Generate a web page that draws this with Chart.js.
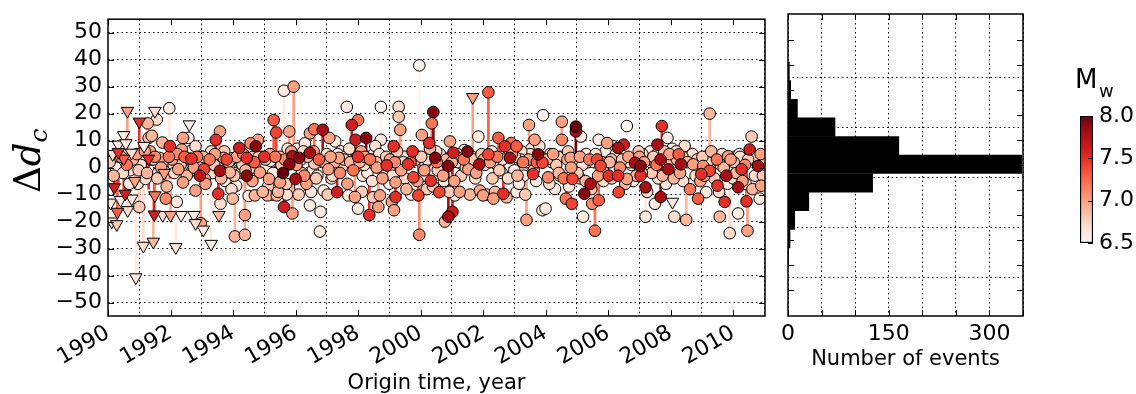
<!DOCTYPE html>
<html>
<head>
<meta charset="utf-8">
<script src="https://cdn.jsdelivr.net/npm/chart.js@4.4.1/dist/chart.umd.min.js"></script>
<style>
  html, body { margin: 0; padding: 0; background: #fff; }
  body { width: 1136px; height: 394px; position: relative; overflow: hidden; }
  .box { position: absolute; top: 0; }
</style>
</head>
<body>
<div class="box" style="left:0"><canvas id="mainchart" width="775" height="394"></canvas></div>
<div class="box" style="left:775px"><canvas id="histchart" width="270" height="394"></canvas></div>
<div class="box" style="left:1045px"><canvas id="cbarchart" width="91" height="394"></canvas></div>
<script>
// circles: origin time, delta d_c, magnitude, other end of the stem (null = no visible stem)
const evYear = [
  1990.7,1990.9,1991.0,1991.2,1991.27,1991.3,1991.4,1991.45,1991.56,1991.65,1991.74,1991.85,1991.96,1991.98,1990.4,1991.1,1991.6,1991.9,1990.95,1991.35,
  1992.1,1992.2,1992.25,1992.36,1992.4,1992.4,1992.5,1992.57,1992.6,1992.67,1992.8,1992.8,1992.9,1992.94,1992.97,1993.07,1993.1,1993.2,1993.3,1993.45,1993.53,1993.58,1993.58,1993.6,1993.7,1993.75,1993.85,1993.9,1993.99,1992.3,1992.7,1993.0,1993.4,1993.65,1992.15,
  1994.0,1994.06,1994.1,1994.2,1994.3,1994.38,1994.38,1994.44,1994.44,1994.5,1994.56,1994.6,1994.73,1994.8,1994.7,1994.86,1994.9,1995.0,1995.1,1995.15,1995.2,1995.3,1995.38,1995.4,1995.5,1995.5,1995.6,1995.63,1995.63,1995.7,1995.8,1995.8,1995.9,1995.9,1995.94,1994.15,1994.65,1995.05,1995.25,1995.45,1994.25,1995.75,
  1996.0,1996.05,1996.12,1996.2,1996.25,1996.35,1996.46,1996.46,1996.46,1996.6,1996.6,1996.7,1996.78,1996.8,1996.87,1996.9,1997.0,1997.08,1997.05,1997.2,1997.27,1997.33,1997.38,1997.5,1997.6,1997.64,1997.69,1997.8,1997.9,1997.92,1996.15,1996.55,1996.95,1997.15,1997.45,1997.75,1996.3,
  1998.0,1998.0,1998.0,1998.1,1998.2,1998.26,1998.36,1998.45,1998.5,1998.6,1998.65,1998.7,1998.73,1998.73,1998.8,1998.92,1999.0,1999.08,1999.14,1999.15,1999.2,1999.2,1999.3,1999.3,1999.35,1999.45,1999.6,1999.7,1999.74,1999.77,1999.85,1999.93,1999.96,1999.96,1998.15,1998.4,1998.85,1999.05,1999.5,1999.65,1998.55,
  2000.04,2000.15,2000.28,2000.33,2000.36,2000.41,2000.47,2000.55,2000.6,2000.7,2000.78,2000.89,2000.89,2000.94,2001.02,2001.05,2001.1,2001.2,2001.3,2001.4,2001.5,2001.53,2001.7,2001.85,2001.88,2001.9,2000.1,2000.5,2000.75,2001.15,2001.35,2001.6,2001.75,2000.2,
  2002.0,2002.1,2002.17,2002.17,2002.33,2002.4,2002.49,2002.6,2002.65,2002.7,2002.86,2002.9,2003.0,2003.07,2003.07,2003.2,2003.3,2003.39,2003.47,2003.5,2003.6,2003.65,2003.76,2003.9,2003.9,2003.92,2002.05,2002.3,2002.55,2002.8,2003.15,2003.4,2003.7,2003.8,
  2004.0,2004.08,2004.2,2004.3,2004.4,2004.52,2004.52,2004.6,2004.65,2004.7,2004.8,2004.84,2004.86,2004.97,2004.97,2005.05,2005.13,2005.2,2005.24,2005.35,2005.44,2005.49,2005.58,2005.65,2005.7,2005.7,2005.76,2005.85,2005.97,2004.15,2004.45,2004.75,2005.1,2005.3,2005.55,2005.9,
  2006.02,2006.1,2006.2,2006.32,2006.32,2006.34,2006.5,2006.6,2006.6,2006.7,2006.86,2006.95,2007.04,2007.04,2007.2,2007.2,2007.3,2007.4,2007.5,2007.58,2007.68,2007.68,2007.72,2007.8,2007.9,2007.93,2006.15,2006.4,2006.8,2007.1,2007.35,2007.6,2007.85,
  2008.12,2008.2,2008.26,2008.33,2008.4,2008.5,2008.6,2008.72,2008.8,2008.88,2008.98,2009.04,2009.14,2009.25,2009.25,2009.35,2009.45,2009.5,2009.57,2009.65,2009.73,2009.78,2009.84,2009.89,2009.95,2010.05,2010.16,2010.16,2010.27,2010.35,2010.43,2010.46,2010.53,2010.59,2010.7,2010.8,2010.85,2010.9,2010.98,2008.05,2008.45,2008.65,2009.1,2009.6,2010.0,2010.2,2010.65,2010.4
]
const evDc = [
  -1,2,-14.6,-4.2,16.4,11,11.8,3,17.8,3.6,9.3,-11.5,22,7.9,1,4,-2,1,-6,6,
  1,-12.7,-0.6,6.7,11,-5.5,3,11,3.3,3.3,7.9,-8.5,3.3,-3,-20.6,-0.6,-4.2,2,6,10.3,-9.7,13.4,-1.2,-13.4,3.6,-5,2,-1.8,-11.5,3,-1,4,1,-3,5,
  3.5,-25.5,-6.7,7.3,1,-24.9,-17.6,3.6,-3,-10.5,9,0,7.9,10.3,-10.3,-1.8,4,4,-10.3,-4.2,2.5,17.6,13,-10.3,-5.5,4,-2,-14.6,28.5,-6,1.2,13.4,-17,4.2,30,2,4,0,-10,2,-2,7,
  -4.2,7,3.6,-2,6,-6,-14,5.5,12.7,14.2,1.5,-3,-23.7,-16.4,14,-8.5,5,11,-0.6,3,9.7,-9.1,3.6,0.5,4,22.5,-10.3,15.8,-10.9,10.3,-7,-1,2,-4,6,2,9,
  17.6,4,-15.2,6,1,11,-17.6,-5,5,0,-14.6,-10.3,22.5,10.3,3,0.8,-6,-12.7,7.9,-15.8,-10.9,-5.5,22.5,18.8,14,2,1.2,-10,6,-3.6,3,-10.3,37.9,-24.9,-3,3,-3,2,-4,4,8,
  12.1,2,9.1,-4.9,16.4,20.6,3.6,-1,-9.1,4,-20,-18.2,0.6,9.7,-16.4,5.5,-10.3,2,-3,6.5,6,-0.6,3,11.5,1.2,-8.5,-3,6,-5,4,1,4,-4,-8,
  -10.3,4.5,27.9,4.9,-11.5,1.5,11,-2,-9.7,7.9,3.6,9.1,-1,-9.1,7.9,3,-3,-19.4,15.8,5,-2.4,10.3,4.9,1.8,-15.8,19.4,1,-4,4,-4,-6,2,-5,8,
  -15.2,-3.6,2,-7.9,4,17,10.3,0,-11.5,3,3.6,-13.4,-4.2,15.2,13.4,1,11.5,-18.2,-9.7,2,-6,-13.4,-23.4,3,-12.1,10.3,0.6,-5,9.1,5,-3,-7,-4,5,2,-2,
  -3,3,-1,7.3,-3,-9.1,8.5,15.4,-4.2,2,1.8,4,0.6,-3,-7.3,-18.2,3,-2,-13.4,8.5,3,-10.9,15.4,6,11,-0.6,8,2,-5,5,6,-4,-6,
  -18.2,3,4.9,1.2,-5,-19.4,5,1.2,-3,-11.5,-2.4,0.6,-9.1,-1.2,20,4,2,-6.7,-18.2,5,-12.7,-3,4.2,-24.3,1,4,-7.3,-17,-0.6,3,-12.5,-23.4,6.7,11.5,-3,0.6,-11.5,-6.7,2,7,8,-6,4,1,-4,5,3,-6
]
const evMw = [
  6.6,6.7,6.8,6.7,6.9,6.9,6.9,6.8,6.7,7.0,6.9,7.1,6.6,7.5,6.6,6.7,6.8,6.6,6.6,7.0,
  6.7,6.6,7.0,7.0,7.0,7.0,6.8,6.6,7.0,7.5,6.7,7.0,6.6,7.7,7.0,7.4,7.0,6.6,6.7,7.5,7.5,7.0,7.8,6.7,7.0,6.6,6.8,6.9,6.9,6.6,6.8,6.6,6.8,6.6,6.9,
  6.7,6.9,6.6,7.6,6.8,6.9,7.0,7.5,7.9,6.6,7.1,6.7,7.9,7.0,6.9,7.0,6.6,7.5,6.9,7.0,6.7,7.3,7.4,6.9,7.0,6.8,8.0,7.6,6.6,6.8,7.9,7.0,7.0,7.8,7.0,6.6,6.8,6.6,6.7,6.6,6.7,6.6,
  7.8,6.6,7.9,6.8,6.7,7.0,6.6,7.8,7.0,7.2,6.8,6.7,6.6,6.6,7.8,6.6,6.7,7.0,7.0,6.6,6.6,7.6,7.0,6.8,6.7,6.6,6.6,7.6,7.0,7.6,6.6,6.6,6.8,6.7,6.6,6.9,6.6,
  7.2,7.5,6.6,7.0,6.7,7.9,7.5,6.7,6.6,7.0,7.0,7.0,6.5,6.6,6.7,7.5,6.6,7.0,7.5,7.0,7.5,7.0,6.7,6.8,7.0,6.7,7.5,6.6,7.5,7.4,6.8,7.4,6.5,7.1,6.6,6.8,6.6,6.6,6.7,6.6,6.7,
  7.0,6.7,7.5,7.5,7.2,7.9,7.9,6.8,7.4,6.6,6.9,7.8,7.9,7.0,7.6,7.6,6.6,6.7,6.8,6.6,7.9,7.0,6.8,6.6,7.8,7.0,6.6,6.7,6.6,6.9,6.6,6.6,6.7,6.8,
  7.0,6.7,7.3,7.4,7.0,6.6,7.3,6.7,7.5,7.5,7.8,7.2,6.6,6.6,7.3,6.8,6.6,7.0,7.0,6.7,7.5,7.0,7.9,7.4,6.6,6.5,6.6,6.8,6.6,6.7,6.6,6.9,6.6,6.7,
  6.6,7.1,6.7,6.6,6.8,7.0,7.1,6.6,7.2,6.9,7.0,7.4,7.4,8.0,7.8,6.7,6.6,6.6,7.9,6.6,7.8,7.1,7.2,7.4,7.3,6.6,7.4,6.7,7.0,6.6,6.7,6.6,6.8,6.6,6.7,6.6,
  7.5,6.8,6.6,7.8,7.5,7.4,7.6,6.5,7.0,6.7,7.8,6.6,7.9,7.5,7.8,6.6,6.7,6.8,6.6,7.8,7.8,7.8,7.5,6.8,6.6,7.8,6.6,6.6,6.6,6.7,6.6,6.7,6.6,
  6.7,6.9,7.3,7.8,6.7,6.9,6.6,7.0,6.7,7.3,7.5,7.1,6.6,7.4,6.9,6.6,6.7,7.5,6.9,6.7,7.5,7.8,7.0,6.7,6.6,6.6,7.8,6.6,7.5,6.7,7.5,7.0,7.6,6.8,6.7,7.8,6.6,7.0,6.8,6.6,6.7,6.6,6.6,6.8,6.7,6.6,6.6,6.6
]
const evRef = [
  null,null,-3,null,4,null,null,null,null,null,null,-1,10,-4,null,null,null,null,null,null,
  null,null,null,null,null,null,null,null,null,null,null,null,null,3,-5,null,null,null,null,-1,0,2,3,null,null,null,null,null,null,null,null,null,null,null,null,
  null,-5,null,null,null,-3,-2,null,3,null,null,null,1,null,null,null,null,null,null,null,null,2,1,null,null,null,4,-2,5,null,null,3,-4,null,5,null,null,null,null,null,null,null,
  -12,null,null,null,null,null,null,null,3,4,null,null,-6,null,2,null,null,null,null,null,null,1,null,null,null,6,null,3,-2,2,null,null,null,null,null,null,null,
  null,null,null,null,null,0,-6,null,null,null,-4,null,8,null,null,null,null,null,null,null,0,null,5,null,2,null,null,null,null,null,null,2,2,-8,null,null,null,null,null,null,null,
  null,null,0,null,3,2,null,null,null,null,null,0,null,null,2,null,null,null,null,null,null,null,null,null,null,null,null,null,null,null,null,null,null,null,
  null,null,3,null,null,null,2,null,2,null,null,null,null,null,null,null,null,-4,4,null,null,null,null,null,null,3,null,null,null,null,null,null,null,null,
  null,null,null,null,null,10,null,null,0,null,null,null,null,0,null,null,null,null,null,null,null,null,-2,null,2,null,null,null,null,null,null,null,null,null,null,null,
  null,null,null,null,null,null,null,4,null,null,null,null,null,null,null,-5,null,null,null,null,null,2,0,null,null,null,null,null,null,null,null,null,null,
  null,null,null,null,null,-5,null,null,null,null,null,null,null,null,4,null,null,null,null,null,null,null,null,-8,null,null,null,null,null,null,0,-5,1,null,null,null,null,null,null,null,null,null,null,null,null,null,null,null
]

// the crowded band around zero (no stems visible)
const bandYear = [
  1990.05,1990.18,1990.25,1990.42,1990.48,1990.6,1990.68,1990.8,1990.92,1990.98,
  1991.05,1991.18,1991.25,1991.38,1991.5,1991.58,1991.7,1991.78,1991.88,1991.95,
  1992.05,1992.12,1992.22,1992.32,1992.45,1992.52,1992.62,1992.75,1992.85,1992.95,
  1993.05,1993.12,1993.25,1993.35,1993.42,1993.5,1993.62,1993.72,1993.8,1993.95,
  1994.04,1994.12,1994.22,1994.33,1994.4,1994.52,1994.62,1994.68,1994.82,1994.95,
  1995.04,1995.12,1995.18,1995.28,1995.35,1995.44,1995.55,1995.66,1995.72,1995.86,
  1996.03,1996.1,1996.18,1996.28,1996.38,1996.5,1996.58,1996.66,1996.75,1996.92,
  1997.03,1997.12,1997.18,1997.25,1997.35,1997.42,1997.55,1997.66,1997.72,1997.85,
  1998.05,1998.12,1998.22,1998.3,1998.38,1998.48,1998.58,1998.68,1998.78,1998.9,
  1999.02,1999.1,1999.18,1999.25,1999.38,1999.48,1999.55,1999.68,1999.8,1999.9,
  2000.02,2000.12,2000.22,2000.3,2000.4,2000.52,2000.62,2000.72,2000.82,2000.92,
  2001.0,2001.08,2001.18,2001.25,2001.38,2001.45,2001.58,2001.65,2001.78,2001.95,
  2002.02,2002.12,2002.22,2002.28,2002.38,2002.45,2002.52,2002.62,2002.75,2002.92,
  2003.02,2003.1,2003.22,2003.28,2003.35,2003.45,2003.55,2003.62,2003.72,2003.85,
  2004.04,2004.12,2004.24,2004.34,2004.42,2004.5,2004.58,2004.72,2004.82,2004.92,
  2005.02,2005.1,2005.18,2005.28,2005.4,2005.46,2005.6,2005.68,2005.8,2005.92,
  2006.05,2006.12,2006.25,2006.38,2006.45,2006.55,2006.65,2006.75,2006.9,2006.98,
  2007.0,2007.08,2007.15,2007.25,2007.45,2007.55,2007.62,2007.75,2007.88,2007.96,
  2008.02,2008.1,2008.18,2008.3,2008.38,2008.55,2008.62,2008.7,2008.85,2008.95,
  2009.02,2009.08,2009.18,2009.3,2009.4,2009.48,2009.55,2009.7,2009.82,2009.92,
  2010.02,2010.1,2010.22,2010.3,2010.38,2010.48,2010.62,2010.75,2010.88,2010.95
]
const bandDc = [
  2,-3,0,4,-2,1,-6,3,5,-1,
  1,6,-2,3,4,-4,0,2,-7,4,
  3,-2,5,1,4,-3,6,0,4,1,
  4,-6,3,-2,5,2,-4,6,3,-8,
  -3,4,2,5,-1,3,-5,2,4,-9,
  3,-7,5,-2,4,-9,1,3,-10,6,
  1,-10,3,-3,4,-9,6,-4,3,2,
  -10,4,-3,2,5,-2,3,-6,7,-1,
  2,-9,4,-2,3,-11,2,5,-4,4,
  3,-3,2,6,-1,4,-8,2,5,-5,
  4,-1,3,7,-7,2,5,-3,3,-9,
  2,-5,5,-9,3,0,-10,4,-2,5,
  3,-10,2,6,-9,4,-1,3,-11,5,
  4,-3,6,2,-10,3,7,-1,2,4,
  3,-6,5,1,-2,4,-4,6,0,3,
  -2,4,1,-5,3,-8,5,-3,2,6,
  2,-4,5,0,3,-6,4,1,-3,6,
  4,-2,2,-9,4,1,6,-3,3,5,
  3,-4,6,-2,4,2,-8,5,3,-5,
  4,-3,2,6,-4,3,-9,0,-6,3,
  2,-2,4,-5,1,3,-8,4,5,-3
]
const bandMw = [
  6.8,6.9,6.6,7.0,6.7,7.2,6.6,6.9,7.0,6.8,
  6.7,7.0,6.9,6.6,7.1,6.8,7.0,6.6,6.9,7.2,
  7.0,6.7,7.1,6.8,7.3,6.9,6.6,7.0,7.2,6.8,
  6.9,7.0,7.2,6.7,7.0,6.6,6.9,6.8,7.4,6.7,
  6.8,7.0,6.6,7.1,6.9,6.7,7.0,7.3,6.8,6.9,
  6.9,6.8,7.0,6.6,7.2,6.9,6.8,7.1,6.7,7.0,
  7.0,6.8,6.7,7.1,6.9,6.6,7.0,6.8,7.3,6.9,
  6.8,7.0,6.7,6.9,6.6,7.1,6.8,7.0,6.7,7.2,
  6.9,6.8,7.0,6.6,7.2,6.8,6.9,6.7,7.0,6.8,
  7.0,6.7,7.1,6.8,7.0,6.6,6.9,7.3,6.8,7.0,
  6.8,7.0,6.7,6.9,6.8,7.2,6.6,7.0,6.9,6.8,
  6.9,7.0,6.6,7.0,7.2,6.8,6.9,6.7,7.0,6.8,
  7.0,6.8,7.0,6.6,6.9,7.2,6.8,6.7,6.9,7.0,
  6.8,6.9,6.7,7.2,6.8,7.0,6.6,6.9,7.3,6.8,
  6.9,6.7,7.0,6.8,6.9,6.6,7.2,6.8,7.0,6.7,
  6.8,7.0,6.7,6.9,7.2,6.8,6.7,7.0,6.9,6.6,
  6.9,6.8,6.7,7.1,6.8,6.9,7.0,6.6,6.9,6.8,
  7.0,6.8,7.0,6.7,6.8,7.2,6.6,6.9,6.8,7.0,
  6.8,6.9,6.7,7.0,6.8,6.9,7.2,6.7,6.8,7.0,
  6.8,7.0,6.7,6.9,6.8,7.2,6.7,6.9,6.6,7.0,
  6.8,6.9,6.7,7.0,7.1,6.8,6.9,6.6,7.0,6.8
]

// triangles (downward markers)
const triYear = [1990.08,1990.12,1990.2,1990.28,1990.3,1990.33,1990.33,1990.5,1990.5,1990.55,1990.57,1990.62,1990.63,1990.75,1990.76,1990.86,1990.89,1991.0,1991.13,1991.3,1991.45,1991.48,1991.5,1991.5,1991.8,1992.0,1992.17,1992.34,1992.6,1992.8,1993.05,1993.3,1993.55,1990.15,1990.4,1991.15,2001.67,2008.06,1992.75,1991.75]
const triDc = [-13,-20,-7.3,-21,-16.4,5.7,8.5,3.3,12,-9.7,9,21,-15.8,5.5,-11.5,-5,-40.7,17,-29,3.3,-27.5,-17.4,21,-10.3,-2,-17.6,-29.5,-17.6,16,-20.6,-23,-28.3,-17.6,5,-12,8,26.1,-12.7,-17.6,-17.6]
const triMw = [6.6,6.6,7.6,6.8,7.3,7.5,6.6,7.3,6.6,7.6,6.6,7.0,6.7,6.7,6.6,7.0,6.6,7.5,6.7,7.5,6.9,7.6,6.7,7.2,7.0,7.0,6.6,6.6,6.6,6.7,6.6,6.6,6.9,6.7,6.6,6.6,7.0,6.6,6.6,6.7]
const triRef = [null,-12,0,-10,-4,-6,null,-8,null,0,null,2,-5,null,null,0,-5,0.5,-3,-8,-12,0,8,-2,-8,-5,-10,null,null,null,null,-5,null,null,null,null,2,null,null,null]

// histogram of delta d_c
const binCenters = [-37,-29.5,-22.1,-14.6,-7.2,0.3,7.7,15.2,22.6,30.1,37.5]
const binCounts = [1,3,10,31,126,348,165,70,14,4,2]

const yearTicks = [1990,1992,1994,1996,1998,2000,2002,2004,2006,2008,2010]
const dcTicks = [-50,-40,-30,-20,-10,0,10,20,30,40,50]
const countTicks = [0,50,100,150,200,250,300,350]
const countLabels = [0,150,300]
const mwTicks = [6.5,7.0,7.5,8.0]

Chart.defaults.font.family = 'DejaVu Sans'
Chart.defaults.font.size = 22
Chart.defaults.color = '#000'

const redsStops = [[255,245,240],[254,224,210],[252,187,161],[252,146,114],[251,106,74],[239,59,44],[203,24,29],[165,15,21],[103,0,13]]
function mwColor(m) {
    let t = (m - 6.5) / 1.5
    t = Math.max(0, Math.min(1, t))
    const p = t * 8
    const i = Math.min(7, Math.floor(p))
    const f = p - i
    const a = redsStops[i], b = redsStops[i + 1]
    return 'rgb(' + a.map((c, k) => Math.round(c + (b[k] - c) * f)).join(',') + ')'
}

// all circle events together, darker ones drawn last so they sit on top
let circles = []
evYear.forEach((t, i) => circles.push({x: t, y: evDc[i], m: evMw[i]}))
bandYear.forEach((t, i) => circles.push({x: t, y: bandDc[i], m: bandMw[i]}))
circles.sort((a, b) => a.m - b.m)
const triOrder = triYear.map((v, i) => i).sort((a, b) => triMw[a] - triMw[b])

let stemData = []
let stemColors = []
evYear.forEach(function(t, i) {
    if (evRef[i] !== null) { stemData.push({x: t, y: [evDc[i], evRef[i]]}); stemColors.push(mwColor(evMw[i])) }
})
triYear.forEach(function(t, i) {
    if (triRef[i] !== null) { stemData.push({x: t, y: [triDc[i], triRef[i]]}); stemColors.push(mwColor(triMw[i])) }
})

const dotted = [1.5, 3]

function frameTicks(xVals, yVals, len) {
    return {
        id: 'frameTicks',
        afterDraw(chart) {
            const {ctx, chartArea: a, scales} = chart
            ctx.save()
            ctx.strokeStyle = '#000'
            ctx.lineWidth = 1
            ctx.beginPath()
            xVals.forEach(function(v) {
                const px = Math.round(scales.x.getPixelForValue(v)) + 0.5
                ctx.moveTo(px, a.bottom); ctx.lineTo(px, a.bottom - len)
                ctx.moveTo(px, a.top); ctx.lineTo(px, a.top + len)
            })
            yVals.forEach(function(v) {
                const py = Math.round(scales.y.getPixelForValue(v)) + 0.5
                ctx.moveTo(a.left, py); ctx.lineTo(a.left + len, py)
                ctx.moveTo(a.right, py); ctx.lineTo(a.right - len, py)
            })
            ctx.stroke()
            ctx.lineWidth = 1.5
            ctx.strokeRect(a.left, a.top, a.right - a.left, a.bottom - a.top)
            ctx.restore()
        }
    }
}

const dcTitle = {
    id: 'dcTitle',
    afterDraw(chart) {
        const ctx = chart.ctx
        ctx.save()
        ctx.translate(40, 193)
        ctx.rotate(-Math.PI / 2)
        ctx.fillStyle = '#000'
        ctx.textBaseline = 'alphabetic'
        ctx.font = '37px "DejaVu Serif"'
        ctx.fillText('\u0394', 0, 0)
        let u = ctx.measureText('\u0394').width
        ctx.font = 'italic 37px "DejaVu Serif"'
        ctx.fillText('d', u, 0)
        u += ctx.measureText('d').width
        ctx.font = 'italic 25px "DejaVu Serif"'
        ctx.fillText('c', u, 7)
        ctx.restore()
    }
}

new Chart(document.getElementById('mainchart'), {
    type: 'scatter',
    data: {
        datasets: [{
            type: 'bar',
            data: stemData,
            backgroundColor: stemColors,
            borderWidth: 0,
            barThickness: 2,
            grouped: false,
            clip: 0,
            order: 3
        }, {
            type: 'scatter',
            data: circles.map(p => ({x: p.x, y: p.y})),
            pointStyle: 'circle',
            pointRadius: 5.8,
            pointBackgroundColor: circles.map(p => mwColor(p.m)),
            pointBorderColor: '#000',
            pointBorderWidth: 1,
            clip: 0,
            order: 2
        }, {
            type: 'scatter',
            data: triOrder.map(i => ({x: triYear[i], y: triDc[i]})),
            pointStyle: 'triangle',
            pointRotation: 180,
            pointRadius: 7.2,
            pointBackgroundColor: triOrder.map(i => mwColor(triMw[i])),
            pointBorderColor: '#000',
            pointBorderWidth: 1,
            clip: 0,
            order: 1
        }]
    },
    options: {
        responsive: false,
        animation: false,
        layout: { padding: { top: 14, right: 10, left: 0, bottom: 0 } },
        plugins: { legend: { display: false }, tooltip: { enabled: false } },
        scales: {
            x: {
                type: 'linear',
                min: 1990,
                max: 2011.02,
                offset: false,
                afterBuildTicks: s => { s.ticks = yearTicks.map(v => ({value: v})) },
                afterFit: s => { s.height = 78 },
                ticks: { maxRotation: 30, minRotation: 30, autoSkip: false, padding: 4, callback: v => String(v) },
                grid: { color: '#000', lineWidth: 1, drawTicks: false },
                border: { display: false, dash: dotted },
                title: { display: true, text: 'Origin time, year', font: { size: 21 }, padding: { top: 0, bottom: -2 } }
            },
            y: {
                type: 'linear',
                min: -55,
                max: 55,
                afterBuildTicks: s => { s.ticks = dcTicks.map(v => ({value: v})) },
                afterFit: s => { s.width = 108 },
                ticks: { padding: 6, callback: v => String(v).replace('-', '\u2212') },
                grid: { color: '#000', lineWidth: 1, drawTicks: false },
                border: { display: false, dash: dotted }
            }
        }
    },
    plugins: [frameTicks(yearTicks, dcTicks, 6), dcTitle]
})

new Chart(document.getElementById('histchart'), {
    type: 'bar',
    data: {
        datasets: [{
            data: binCenters.map((c, i) => ({x: binCounts[i], y: c})),
            backgroundColor: '#000',
            borderWidth: 0,
            categoryPercentage: 1,
            barPercentage: 1,
            clip: 0
        }]
    },
    options: {
        indexAxis: 'y',
        responsive: false,
        animation: false,
        layout: { padding: { top: 14, right: 22, left: 0, bottom: 0 } },
        plugins: { legend: { display: false }, tooltip: { enabled: false } },
        scales: {
            x: {
                type: 'linear',
                min: 0,
                max: 350,
                afterBuildTicks: s => { s.ticks = countTicks.map(v => ({value: v})) },
                afterFit: s => { s.height = 78 },
                ticks: { maxRotation: 0, autoSkip: false, padding: 5, callback: v => countLabels.includes(v) ? String(v) : '' },
                grid: { color: '#000', lineWidth: 1, drawTicks: false },
                border: { display: false, dash: dotted },
                title: { display: true, text: 'Number of events', font: { size: 21 }, padding: { top: 0, bottom: 22 } }
            },
            y: {
                type: 'linear',
                min: -55,
                max: 55,
                afterBuildTicks: s => { s.ticks = dcTicks.map(v => ({value: v})) },
                afterFit: s => { s.width = 13 },
                ticks: { display: false },
                grid: { color: c => (c.tick && c.tick.value % 20 === 0) ? '#000' : 'rgba(0,0,0,0)', lineWidth: 1, drawTicks: false },
                border: { display: false, dash: dotted }
            }
        }
    },
    plugins: [frameTicks(countTicks, dcTicks, 6)]
})

const cbarDecor = {
    id: 'cbarDecor',
    afterDraw(chart) {
        const {ctx, chartArea: a, scales} = chart
        ctx.save()
        ctx.strokeStyle = '#000'
        ctx.lineWidth = 1
        ctx.beginPath()
        mwTicks.forEach(function(v) {
            const py = Math.round(scales.y.getPixelForValue(v)) + 0.5
            ctx.moveTo(a.right, py); ctx.lineTo(a.right - 5, py)
        })
        ctx.stroke()
        ctx.fillStyle = '#000'
        ctx.textBaseline = 'alphabetic'
        ctx.font = '26px "DejaVu Sans"'
        ctx.fillText('M', 30, 88)
        ctx.font = '18px "DejaVu Sans"'
        ctx.fillText('w', 54, 97)
        ctx.restore()
    }
}

new Chart(document.getElementById('cbarchart'), {
    type: 'bar',
    data: {
        labels: ['Mw'],
        datasets: [{
            data: [[mwTicks[0], mwTicks[mwTicks.length - 1]]],
            backgroundColor: function(context) {
                const a = context.chart.chartArea
                if (!a) return '#fff'
                const g = context.chart.ctx.createLinearGradient(0, a.bottom, 0, a.top)
                redsStops.forEach((c, k) => g.addColorStop(k / 8, 'rgb(' + c.join(',') + ')'))
                return g
            },
            borderColor: '#000',
            borderWidth: 1.5,
            borderSkipped: false,
            categoryPercentage: 1,
            barPercentage: 1
        }]
    },
    options: {
        responsive: false,
        animation: false,
        layout: { padding: { top: 116, bottom: 151, left: 35, right: 0 } },
        plugins: { legend: { display: false }, tooltip: { enabled: false } },
        scales: {
            x: { display: false },
            y: {
                position: 'right',
                min: 6.5,
                max: 8.0,
                afterBuildTicks: s => { s.ticks = mwTicks.map(v => ({value: v})) },
                afterFit: s => { s.width = 43 },
                ticks: { padding: 6, callback: v => v.toFixed(1) },
                grid: { display: false, drawTicks: false },
                border: { display: false }
            }
        }
    },
    plugins: [cbarDecor]
})
</script>
</body>
</html>
